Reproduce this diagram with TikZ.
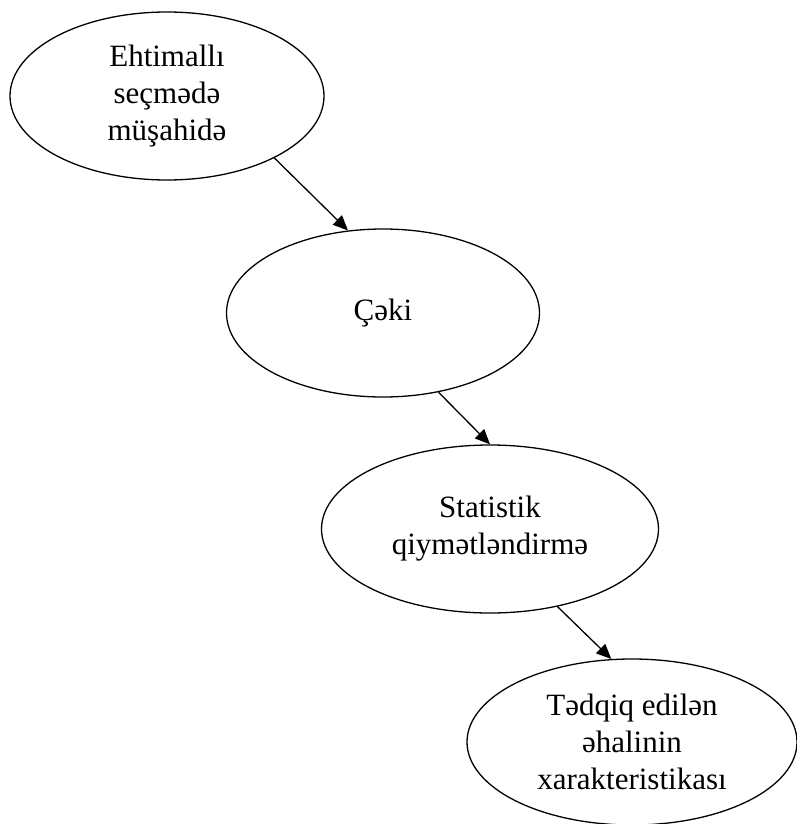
\documentclass[tikz,border=0pt]{standalone}
\usepackage{fontspec}
\setmainfont{Liberation Serif}
\usetikzlibrary{shapes.geometric,arrows.meta}
\begin{document}
\begin{tikzpicture}[x=1pt,y=-1pt,
        oval/.style={ellipse,draw,line width=1.3pt,inner sep=0pt,align=center,
            font=\fontsize{31}{37}\selectfont},
        flow/.style={-{Triangle[length=15pt,width=13pt]},line width=1.3pt}]
        \useasboundingbox (0,0) rectangle (796,824);
        \node[oval,minimum width=314pt,minimum height=168pt] (obs) at (167,96)
            {Ehtimallı\\seçmədə\\müşahidə};
        \node[oval,minimum width=313pt,minimum height=168pt] (ceki) at (383,313)
            {Çəki};
        \node[oval,minimum width=337pt,minimum height=168pt] (stat) at (490,529)
            {Statistik\\qiymətləndirmə};
        \node[oval,minimum width=330pt,minimum height=166pt] (xar) at (632,742)
            {Tədqiq edilən\\əhalinin\\xarakteristikası};
        \draw[flow] (obs.-30) -- (ceki.113);
        \draw[flow] (ceki.-55) -- (stat.90);
        \draw[flow] (stat.-49) -- (xar.104);
    \end{tikzpicture}
\end{document}
